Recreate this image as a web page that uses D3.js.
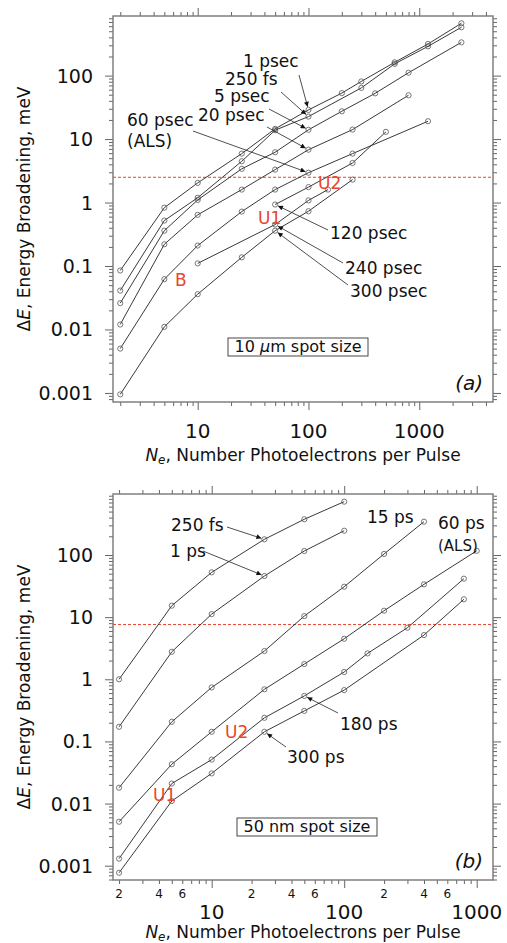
<!DOCTYPE html>
<html>
<head>
<meta charset="utf-8">
<script src="https://cdn.jsdelivr.net/npm/d3@7"></script>
<style>
  body { margin: 0; background: #fff; }
  text { font-family: "DejaVu Sans", sans-serif; }
</style>
</head>
<body>
<div id="chart"></div>
<script>
// ---- panel (a): 10 um spot size ----
const a1psX   = [2, 5, 10, 25, 50, 100, 200, 300, 600, 1200, 2400];
const a1psY   = [0.085, 0.83, 2.04, 5.9, 14.5, 28.8, 53, 81, 162, 315, 667];
const a250fsX = [2, 5, 10, 25, 50, 100, 300, 600, 1200, 2400];
const a250fsY = [0.041, 0.52, 1.19, 4.47, 13.8, 22.6, 64, 153, 289, 577];
const a5psX   = [2, 5, 10, 25, 50, 100, 200, 400, 800, 2400];
const a5psY   = [0.026, 0.36, 1.1, 3.4, 6.2, 14, 27.4, 52.6, 111, 334];
const a20psX  = [2, 5, 10, 25, 50, 100, 250, 800];
const a20psY  = [0.012, 0.22, 0.64, 1.6, 3.3, 6.8, 14.1, 49];
const a60psX  = [2, 5, 10, 25, 50, 100, 250, 1200];
const a60psY  = [0.005, 0.062, 0.21, 0.72, 1.6, 2.95, 5.9, 19.1];
const a120psX = [50, 100, 250, 500];
const a120psY = [0.93, 1.75, 4.2, 13];
const a240psX = [10, 50, 100, 150];
const a240psY = [0.11, 0.45, 1.08, 1.6];
const a300psX = [2, 5, 10, 25, 50, 100, 250];
const a300psY = [0.00095, 0.011, 0.036, 0.137, 0.36, 0.73, 2.3];
const aLimit = 2.5;

// ---- panel (b): 50 nm spot size ----
const b250fsX = [2, 5, 10, 25, 50, 100];
const b250fsY = [1.0, 15.3, 52.6, 179, 376, 722];
const b1psX   = [2, 5, 10, 25, 50, 100];
const b1psY   = [0.172, 2.77, 11.2, 45.9, 116, 246];
const b15psX  = [2, 5, 10, 25, 50, 100, 200, 400];
const b15psY  = [0.018, 0.207, 0.74, 2.85, 10.4, 30.9, 104, 344];
const b60psX  = [2, 5, 10, 25, 50, 100, 200, 400, 1000];
const b60psY  = [0.0051, 0.043, 0.143, 0.69, 1.76, 4.49, 12.7, 33.7, 117];
const b180psX = [2, 5, 10, 25, 50, 100, 150, 300, 800];
const b180psY = [0.0013, 0.021, 0.051, 0.24, 0.54, 1.31, 2.61, 6.76, 41.6];
const b300psX = [2, 5, 10, 25, 50, 100, 400, 800];
const b300psY = [0.00077, 0.011, 0.0306, 0.143, 0.31, 0.67, 5.15, 19.4];
const bLimit = 7.6;

// tick values
const yMajorTicks = [0.001, 0.01, 0.1, 1, 10, 100];
const xMajorTicks = [10, 100, 1000];
const bMinorLabels = [2, 4, 6, 20, 40, 60, 200, 400, 600];

const W = 507, H = 943;
const red = '#e8452c';

const svg = d3.select('#chart').append('svg')
  .attr('width', W)
  .attr('height', H);

const defs = svg.append('defs');
defs.append('marker')
  .attr('id', 'arrow')
  .attr('viewBox', '0 0 10 10')
  .attr('refX', 10).attr('refY', 5)
  .attr('markerWidth', 7).attr('markerHeight', 5)
  .attr('markerUnits', 'userSpaceOnUse')
  .attr('orient', 'auto')
  .append('path')
  .attr('d', 'M0,0L10,5L0,10z')
  .attr('fill', '#111');

function minorTicks(lo, hi) {
  const out = [];
  for (let e = Math.floor(Math.log10(lo)); e <= Math.ceil(Math.log10(hi)); e++) {
    for (let m = 2; m <= 9; m++) {
      const v = m * Math.pow(10, e);
      if (v >= lo && v <= hi) out.push(v);
    }
  }
  return out;
}

function drawPanel(p) {
  const g = svg.append('g');
  const x = d3.scaleLog().domain(p.xDomain).range([p.left, p.right]);
  const y = d3.scaleLog().domain(p.yDomain).range([p.bottom, p.top]);

  const xMinor = minorTicks(p.xDomain[0], p.xDomain[1]);
  const yMinor = minorTicks(p.yDomain[0], p.yDomain[1]);

  const axes = [
    [d3.axisBottom(x), `translate(0,${p.bottom})`, xMinor, xMajorTicks],
    [d3.axisTop(x), `translate(0,${p.top})`, xMinor, xMajorTicks],
    [d3.axisLeft(y), `translate(${p.left},0)`, yMinor, yMajorTicks],
    [d3.axisRight(y), `translate(${p.right},0)`, yMinor, yMajorTicks]
  ];
  axes.forEach(([ax, tr, minor, major]) => {
    g.append('g').attr('transform', tr)
      .call(ax.tickValues(minor).tickSize(4).tickFormat(''))
      .call(s => s.select('.domain').remove());
    g.append('g').attr('transform', tr)
      .call(ax.tickValues(major).tickSize(8).tickFormat(''))
      .call(s => s.select('.domain').remove());
  });
  g.selectAll('.tick line').attr('stroke', '#666').attr('stroke-width', 1);

  // frame
  g.append('rect')
    .attr('x', p.left).attr('y', p.top)
    .attr('width', p.right - p.left).attr('height', p.bottom - p.top)
    .attr('fill', 'none').attr('stroke', '#777').attr('stroke-width', 1.4);

  // tick labels
  g.append('g').selectAll('text').data(yMajorTicks).join('text')
    .attr('x', p.left - 20)
    .attr('y', d => y(d) + 7)
    .attr('text-anchor', 'end')
    .attr('font-size', 19)
    .attr('fill', '#111')
    .text(d => String(d));

  g.append('g').selectAll('text').data(xMajorTicks).join('text')
    .attr('x', d => x(d))
    .attr('y', p.xLabelY)
    .attr('text-anchor', 'middle')
    .attr('font-size', 20)
    .attr('fill', '#111')
    .text(d => String(d));

  if (p.minorLabels) {
    g.append('g').selectAll('text').data(p.minorLabels).join('text')
      .attr('x', d => x(d))
      .attr('y', p.bottom + 18)
      .attr('text-anchor', 'middle')
      .attr('font-size', 12)
      .attr('fill', '#111')
      .text(d => String(d / Math.pow(10, Math.floor(Math.log10(d)))));
  }

  // axis titles
  const yt = g.append('text')
    .attr('transform', `translate(30,${(p.top + p.bottom) / 2}) rotate(-90)`)
    .attr('text-anchor', 'middle')
    .attr('font-size', 17)
    .attr('fill', '#111');
  yt.append('tspan').text('Δ');
  yt.append('tspan').attr('font-style', 'italic').text('E');
  yt.append('tspan').text(', Energy Broadening, meV');

  const xt = g.append('text')
    .attr('x', (p.left + p.right) / 2)
    .attr('y', p.xTitleY)
    .attr('text-anchor', 'middle')
    .attr('font-size', 17)
    .attr('fill', '#111');
  xt.append('tspan').attr('font-style', 'italic').text('N');
  xt.append('tspan').attr('font-style', 'italic').attr('font-size', 12).attr('dy', 3).text('e');
  xt.append('tspan').attr('dy', -3).text(', Number Photoelectrons per Pulse');

  // red dashed limit
  g.append('line')
    .attr('x1', p.left).attr('x2', p.right)
    .attr('y1', y(p.limit)).attr('y2', y(p.limit))
    .attr('stroke', red).attr('stroke-width', 1)
    .attr('stroke-dasharray', '3,2');

  // series
  const line = d3.line().x(d => x(d[0])).y(d => y(d[1]));
  p.series.forEach(s => {
    const pts = s.x.map((v, i) => [v, s.y[i]]);
    g.append('path')
      .attr('d', line(pts))
      .attr('fill', 'none')
      .attr('stroke', '#222')
      .attr('stroke-width', 0.9);
    g.append('g').selectAll('circle').data(pts).join('circle')
      .attr('cx', d => x(d[0]))
      .attr('cy', d => y(d[1]))
      .attr('r', 2.6)
      .attr('fill', 'none')
      .attr('stroke', '#555')
      .attr('stroke-width', 0.8);
  });

  // labels + arrows
  p.labels.forEach(l => {
    g.append('text')
      .attr('x', l.tx).attr('y', l.ty)
      .attr('font-size', l.size || 17)
      .attr('fill', '#111')
      .text(l.text);
    if (l.to) {
      const s = p.series[l.to[0]];
      const px = x(s.x[l.to[1]]), py = y(s.y[l.to[1]]);
      const dx = px - l.ax, dy = py - l.ay;
      const len = Math.hypot(dx, dy);
      g.append('line')
        .attr('x1', l.ax).attr('y1', l.ay)
        .attr('x2', px - dx / len * 3.2).attr('y2', py - dy / len * 3.2)
        .attr('stroke', '#222').attr('stroke-width', 0.8)
        .attr('marker-end', 'url(#arrow)');
    }
  });

  p.redLabels.forEach(l => {
    g.append('text')
      .attr('x', l.tx).attr('y', l.ty)
      .attr('font-size', 17)
      .attr('fill', red)
      .text(l.text);
  });

  // spot size box
  const box = g.append('g');
  box.append('rect')
    .attr('x', p.box.x).attr('y', p.box.y)
    .attr('width', p.box.w).attr('height', p.box.h)
    .attr('fill', '#fff').attr('stroke', '#333').attr('stroke-width', 0.9);
  const bt = box.append('text')
    .attr('x', p.box.x + p.box.w / 2)
    .attr('y', p.box.y + p.box.h - 4)
    .attr('text-anchor', 'middle')
    .attr('font-size', 16)
    .attr('fill', '#111');
  p.box.parts.forEach(t => bt.append('tspan').attr('font-style', t[1] ? 'italic' : null).text(t[0]));

  g.append('text')
    .attr('x', p.right - 10).attr('y', p.bottom - 12)
    .attr('text-anchor', 'end')
    .attr('font-family', '"Liberation Serif", serif')
    .attr('font-style', 'italic')
    .attr('font-size', 20)
    .attr('fill', '#111')
    .text(p.tag);
}

drawPanel({
  left: 113, right: 493, top: 16, bottom: 402,
  xDomain: [1.72, 4630], yDomain: [0.00072, 869],
  xLabelY: 438, xTitleY: 461, limit: aLimit, tag: '(a)',
  series: [
    { x: a1psX, y: a1psY }, { x: a250fsX, y: a250fsY }, { x: a5psX, y: a5psY },
    { x: a20psX, y: a20psY }, { x: a60psX, y: a60psY }, { x: a120psX, y: a120psY },
    { x: a240psX, y: a240psY }, { x: a300psX, y: a300psY }
  ],
  labels: [
    { text: '1 psec', tx: 243, ty: 67, ax: 299, ay: 75, to: [0, 5] },
    { text: '250 fs', tx: 225, ty: 85, ax: 281, ay: 92, to: [1, 5] },
    { text: '5 psec', tx: 214, ty: 102, ax: 269, ay: 109, to: [2, 5] },
    { text: '20 psec', tx: 198, ty: 121, ax: 267, ay: 127, to: [3, 5] },
    { text: '60 psec', tx: 127, ty: 126, ax: 193, ay: 131, to: [4, 5] },
    { text: '(ALS)', tx: 127, ty: 147 },
    { text: '120 psec', tx: 330, ty: 239, ax: 328, ay: 230, to: [5, 0] },
    { text: '240 psec', tx: 345, ty: 274, ax: 343, ay: 263, to: [6, 1] },
    { text: '300 psec', tx: 350, ty: 297, ax: 348, ay: 285, to: [7, 4] }
  ],
  redLabels: [
    { text: 'U2', tx: 318, ty: 189 },
    { text: 'U1', tx: 258, ty: 224 },
    { text: 'B', tx: 175, ty: 286 }
  ],
  box: { x: 228, y: 338, w: 140, h: 18, parts: [['10 ', false], ['μ', true], ['m spot size', false]] }
});

drawPanel({
  left: 113, right: 493, top: 494, bottom: 880,
  xDomain: [1.8, 1327], yDomain: [0.000589, 959],
  xLabelY: 919, xTitleY: 938, limit: bLimit, tag: '(b)',
  minorLabels: bMinorLabels,
  series: [
    { x: b250fsX, y: b250fsY }, { x: b1psX, y: b1psY }, { x: b15psX, y: b15psY },
    { x: b60psX, y: b60psY }, { x: b180psX, y: b180psY }, { x: b300psX, y: b300psY }
  ],
  labels: [
    { text: '250 fs', tx: 171, ty: 531, ax: 227, ay: 527, to: [0, 3] },
    { text: '1 ps', tx: 170, ty: 557, ax: 203, ay: 551, to: [1, 3] },
    { text: '15 ps', tx: 367, ty: 523 },
    { text: '60 ps', tx: 438, ty: 529 },
    { text: '(ALS)', tx: 438, ty: 551, size: 15 },
    { text: '180 ps', tx: 340, ty: 730, ax: 338, ay: 713, to: [4, 4] },
    { text: '300 ps', tx: 287, ty: 763, ax: 286, ay: 747, to: [5, 3] }
  ],
  redLabels: [
    { text: 'U2', tx: 225, ty: 738 },
    { text: 'U1', tx: 153, ty: 801 }
  ],
  box: { x: 237, y: 818, w: 140, h: 18, parts: [['50 nm spot size', false]] }
});
</script>
</body>
</html>
